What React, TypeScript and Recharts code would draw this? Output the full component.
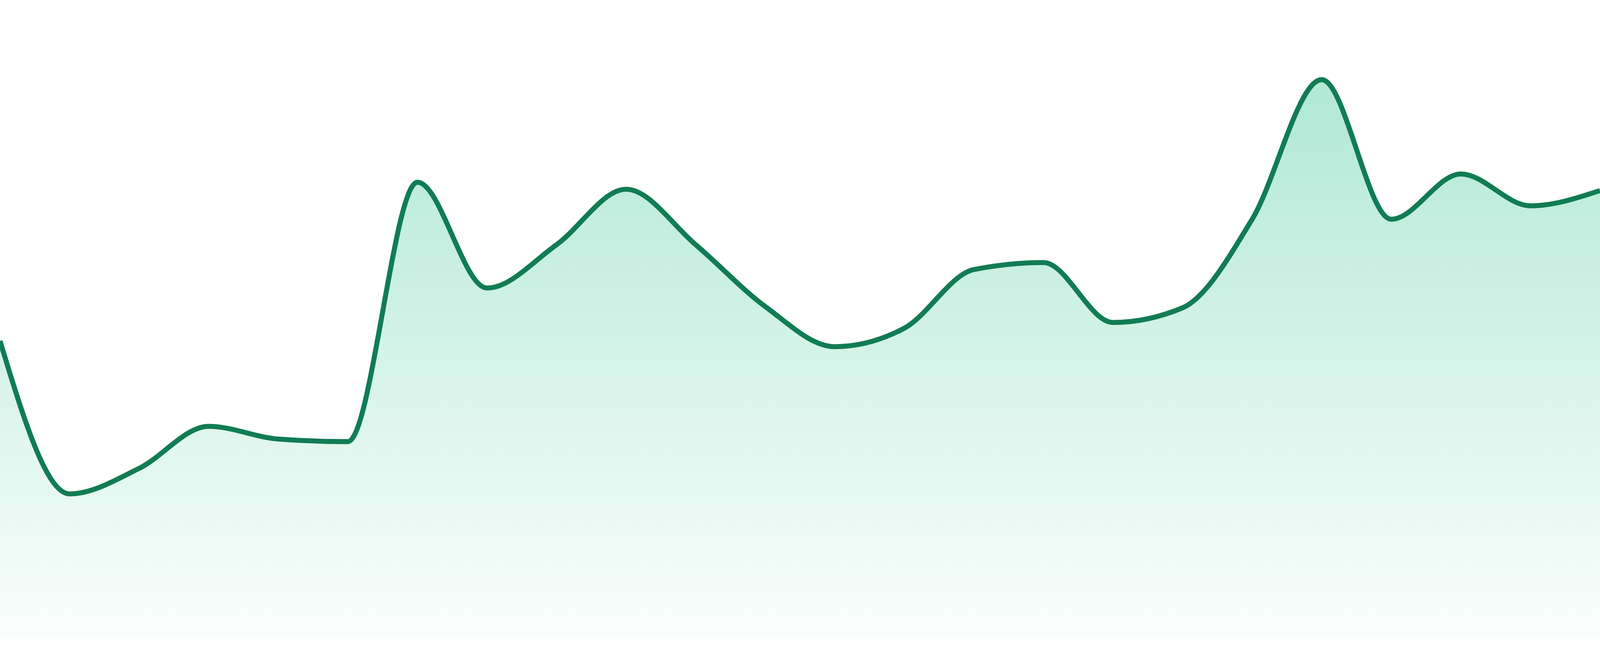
import React from "react";
import { AreaChart, Area, XAxis, YAxis } from "recharts";

const categories = [
  "P01", "P02", "P03", "P04", "P05", "P06", "P07", "P08",
  "P09", "P10", "P11", "P12", "P13", "P14", "P15", "P16",
  "P17", "P18", "P19", "P20", "P21", "P22", "P23", "P24",
];

const seriesValues = [
  46.5, 22.5, 26.5, 33.1, 31.1, 30.7, 71.4, 54.8,
  61.6, 70.3, 61.6, 51.9, 45.6, 48.5, 57.7, 58.8,
  49.4, 51.7, 65.6, 87.5, 65.6, 72.7, 67.7, 70.1,
];

const yDomain = [0, 100];

const data = categories.map((name, i) => ({ name, value: seriesValues[i] }));

export default function App() {
  const vw = typeof window !== "undefined" && window.innerWidth ? window.innerWidth : 4800;
  const vh = typeof window !== "undefined" && window.innerHeight ? window.innerHeight : 1680;
  const sx = vw / 4800;
  const sy = vh / 1680;
  return (
    <div
      style={{
        position: "fixed",
        left: 0,
        top: 0,
        width: vw,
        height: vh,
        background: "#ffffff",
        overflow: "hidden",
      }}
    >
      <AreaChart
        width={vw}
        height={vh}
        data={data}
        margin={{ top: 0, right: 0, bottom: 48 * sy, left: 0 }}
      >
        <defs>
          <linearGradient id="fillGrad" x1="0" y1="0" x2="0" y2="1">
            <stop offset="0%" stopColor="#10b981" stopOpacity={0.33} />
            <stop offset="100%" stopColor="#10b981" stopOpacity={0.02} />
          </linearGradient>
        </defs>
        <XAxis dataKey="name" hide />
        <YAxis hide domain={yDomain} />
        <Area
          type="monotone"
          dataKey="value"
          stroke="#117c54"
          strokeWidth={15 * Math.min(sx, sy)}
          fill="url(#fillGrad)"
          fillOpacity={1}
          isAnimationActive={false}
          dot={false}
          activeDot={false}
        />
      </AreaChart>
    </div>
  );
}
